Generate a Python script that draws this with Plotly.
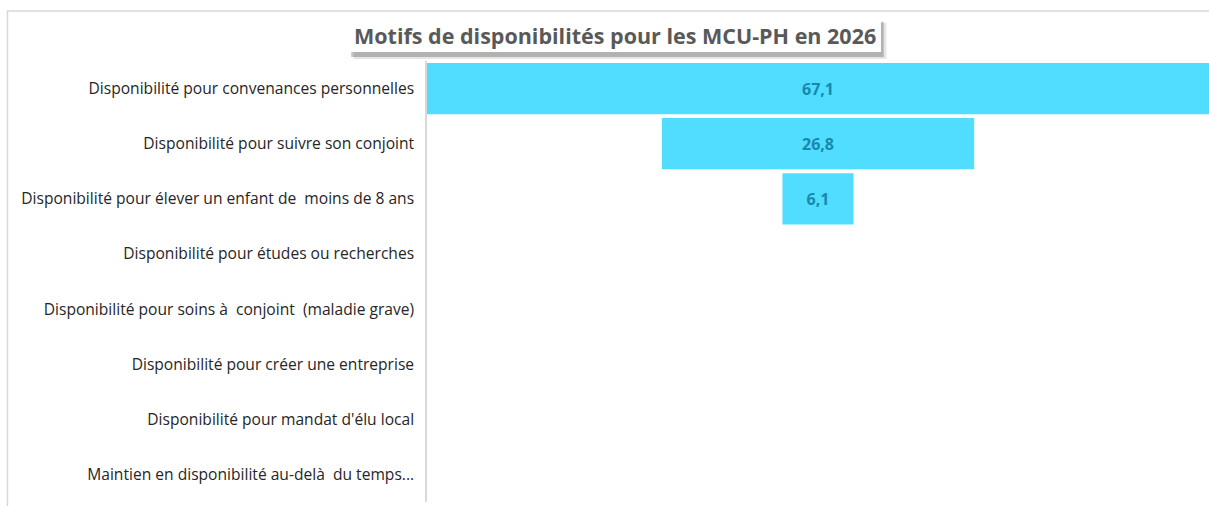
import plotly.graph_objs as go

categories = [
    "Disponibilité pour convenances personnelles",
    "Disponibilité pour suivre son conjoint",
    "Disponibilité pour élever un enfant de  moins de 8 ans",
    "Disponibilité pour études ou recherches",
    "Disponibilité pour soins à  conjoint  (maladie grave)",
    "Disponibilité pour créer une entreprise",
    "Disponibilité pour mandat d'élu local",
    "Maintien en disponibilité au-delà  du temps...",
]
values = [67.1, 26.8, 6.1, 0, 0, 0, 0, 0]
labels = [f"{v:.1f}".replace(".", ",") if v else "" for v in values]

fig = go.Figure()
fig.add_trace(
    go.Funnel(
        y=categories,
        x=values,
        text=labels,
        textinfo="text",
        textposition="inside",
        insidetextanchor="middle",
        textfont={"family": "Open Sans", "size": 16, "color": "#1689AE", "weight": "bold"},
        marker={"color": "#50DDFF", "line": {"width": 0}},
        connector={"visible": False},
        hoverinfo="y+x",
    )
)

half = max(values) / 2
fig.update_layout(
    width=1209,
    height=506,
    margin={"l": 427, "r": 0, "t": 61, "b": 4},
    paper_bgcolor="white",
    plot_bgcolor="white",
    funnelgap=0.07,
    showlegend=False,
    font={"family": "Open Sans", "size": 15.6, "color": "#262626"},
    xaxis={"range": [-half, half], "visible": False, "fixedrange": True},
    yaxis={
        "showline": True,
        "linecolor": "#D9D9D9",
        "linewidth": 1.5,
        "ticks": "",
        "ticklabelstandoff": 8,
        "tickfont": {"family": "Open Sans", "size": 15.6, "color": "#262626"},
    },
    shapes=[
        # outer chart border
        {"type": "rect", "xref": "paper", "yref": "paper", "x0": -0.5365, "x1": 1.05,
         "y0": -0.05, "y1": 1.1134, "line": {"color": "#D9D9D9", "width": 1.5}, "layer": "below"},
        # title shadow (two soft layers)
        {"type": "rect", "xref": "paper", "yref": "paper", "x0": -0.094, "x1": 0.5875,
         "y0": 1.0045, "y1": 1.086, "fillcolor": "rgba(0,0,0,0.10)", "line": {"width": 0}, "layer": "below"},
        {"type": "rect", "xref": "paper", "yref": "paper", "x0": -0.097, "x1": 0.584,
         "y0": 1.009, "y1": 1.089, "fillcolor": "rgba(0,0,0,0.22)", "line": {"width": 0}, "layer": "below"},
        # title box
        {"type": "rect", "xref": "paper", "yref": "paper", "x0": -0.0985, "x1": 0.5805,
         "y0": 1.0205, "y1": 1.0975, "fillcolor": "white", "line": {"width": 0}, "layer": "below"},
    ],
    annotations=[
        {"text": "<b>Motifs de disponibilités pour les MCU-PH en 2026</b>", "xref": "paper", "yref": "paper",
         "x": 0.2405, "y": 1.057, "xanchor": "center", "yanchor": "middle", "showarrow": False,
         "font": {"family": "Open Sans", "size": 21.5, "color": "#595959"}},
    ],
)

fig.write_html(
    "out.html",
    config={"displayModeBar": False},
    post_script="document.body.style.margin = '0'; document.body.style.overflow = 'hidden';",
)
